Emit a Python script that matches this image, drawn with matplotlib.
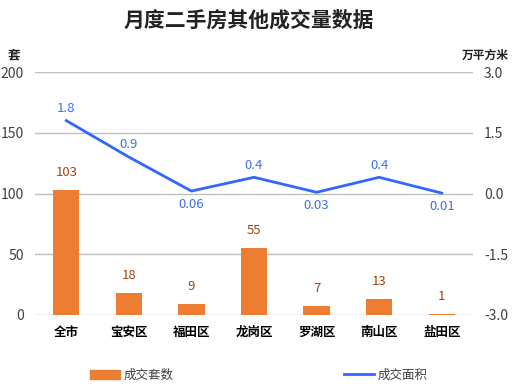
import matplotlib
matplotlib.use("Agg")
import matplotlib.pyplot as plt
from matplotlib.patches import Patch
from matplotlib.lines import Line2D

plt.rcParams['font.family'] = ['Noto Sans CJK SC', 'DejaVu Sans']

categories = ['全市', '宝安区', '福田区', '龙岗区', '罗湖区', '南山区', '盐田区']
counts = [103, 18, 9, 55, 7, 13, 1]
areas = [1.8, 0.9, 0.06, 0.4, 0.03, 0.4, 0.01]
area_labels = ['1.8', '0.9', '0.06', '0.4', '0.03', '0.4', '0.01']
left_ticks = [0, 50, 100, 150, 200]
right_ticks = [-3.0, -1.5, 0.0, 1.5, 3.0]

W, H = 512, 387
fig = plt.figure(figsize=(W / 100, H / 100), dpi=100)
ax = fig.add_axes([35 / W, 1 - 315 / H, (473 - 35) / W, (315 - 72) / H])
ax2 = ax.twinx()

bar_color = '#ED7D31'
line_color = '#3366FF'
x = list(range(len(categories)))

ax.bar(x, counts, width=0.42, color=bar_color, zorder=3)
ax.set_xlim(-0.5, len(categories) - 0.5)
ax.set_ylim(0, 200)
ax.set_yticks(left_ticks)
ax.set_yticklabels([str(t) for t in left_ticks])
ax.grid(axis='y', color='#BFBFBF', linewidth=1, zorder=0)
ax.set_axisbelow(True)
for s in ['top', 'right', 'left', 'bottom']:
    ax.spines[s].set_visible(False)
ax2.spines[:].set_visible(False)
ax.tick_params(axis='y', length=0, labelsize=10, labelcolor='#404040', pad=8)
ax.tick_params(axis='x', length=0, labelsize=9, pad=8)
ax.set_xticks(x)
ax.set_xticklabels(categories, fontweight='bold')

for xi, c in zip(x, counts):
    ax.annotate(str(c), (xi, c), xytext=(0, 8), textcoords='offset points',
                ha='center', va='bottom', fontsize=9.5, color='#A0440C')

ax2.plot(x, areas, color=line_color, linewidth=2, zorder=4)
ax2.set_ylim(-3, 3)
ax2.set_yticks(right_ticks)
ax2.set_yticklabels([f'{t:.1f}' for t in right_ticks])
ax2.tick_params(axis='y', length=0, labelsize=10, labelcolor='#404040', pad=8)

for i, (xi, a, lab) in enumerate(zip(x, areas, area_labels)):
    if a >= 0.3:
        ax2.annotate(lab, (xi, a), xytext=(0, 4), textcoords='offset points',
                     ha='center', va='bottom', fontsize=9.5, color='#3F6FE8')
    else:
        ax2.annotate(lab, (xi, a), xytext=(0, -5), textcoords='offset points',
                     ha='center', va='top', fontsize=9.5, color='#3F6FE8')

fig.text(0.485, 1 - 20 / H, '月度二手房其他成交量数据', ha='center', va='center',
         fontsize=15, fontweight='bold', color='#222222')
fig.text(14 / W, 1 - 55 / H, '套', ha='center', va='center', fontsize=9,
         fontweight='bold', color='#222222')
fig.text(509 / W, 1 - 55 / H, '万平方米', ha='right', va='center', fontsize=8.5,
         fontweight='bold', color='#222222')

handles1 = [Patch(color=bar_color)]
handles2 = [Line2D([0], [0], color=line_color, linewidth=2)]
fig.legend(handles1, ['成交套数'], loc='center', bbox_to_anchor=(132 / W, 1 - 375 / H),
           frameon=False, fontsize=9, handlelength=2.4, handleheight=0.7, handletextpad=0.3,
           labelcolor='#404040')
fig.legend(handles2, ['成交面积'], loc='center', bbox_to_anchor=(386 / W, 1 - 375 / H),
           frameon=False, fontsize=9, handlelength=2.4, handletextpad=0.3,
           labelcolor='#404040')

fig.savefig('out.png', dpi=100)
